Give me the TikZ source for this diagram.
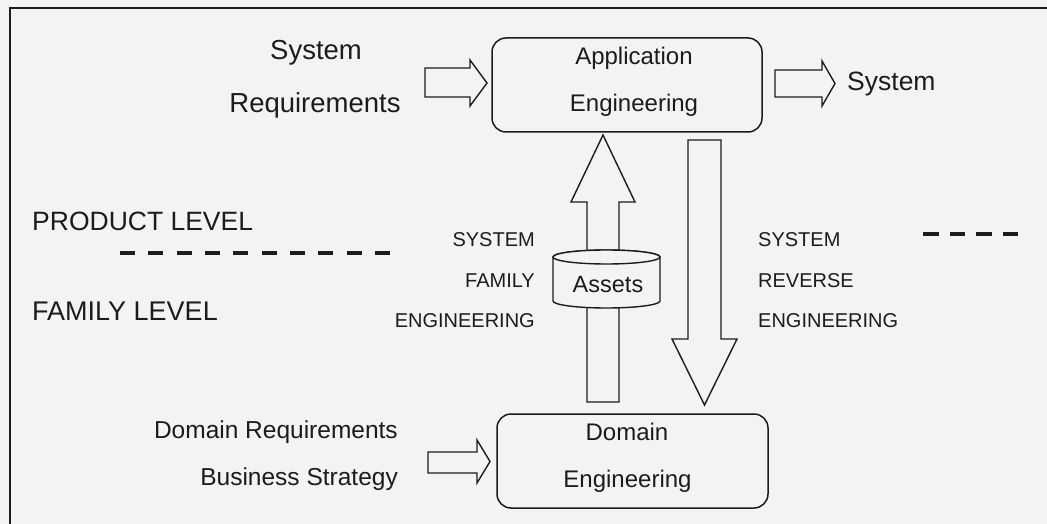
\documentclass[tikz,border=0pt]{standalone}
\usepackage{fontspec}
\setmainfont{Liberation Sans}
\definecolor{bg}{RGB}{243,243,242}
\definecolor{ink}{RGB}{28,28,28}
\begin{document}
\begin{tikzpicture}[x=1pt,y=-1pt,
  frame/.style={draw=ink,line width=2pt},
  box/.style={draw=ink,line width=1.5pt,rounded corners=14pt,minimum width=#1,minimum height=94pt,inner sep=0pt},
  blk/.style={draw=ink,line width=1.4pt,fill=bg,line join=miter},
  cyl/.style={draw=ink,line width=1.4pt,fill=bg},
  lvl/.style={line width=3.5pt,draw=ink},
  t/.style={inner sep=0pt,text=ink,anchor=base},
  tl/.style={inner sep=0pt,text=ink,anchor=base west},
  tr/.style={inner sep=0pt,text=ink,anchor=base east},
  big/.style={font=\fontsize{27.5pt}{30pt}\selectfont},
  mid/.style={font=\fontsize{24pt}{26pt}\selectfont},
  sml/.style={font=\fontsize{20pt}{22pt}\selectfont}]
\useasboundingbox (0,0) rectangle (1047,524);
\fill[bg] (0,0) rectangle (1047,524);
% frame
\coordinate (fbl) at (10,524);
\coordinate (ftl) at (10,8);
\coordinate (ftr) at (1047,8);
\draw[frame] (fbl) -- (ftl) -- (ftr);

% boxes
\node[box=270pt] (app) at (627,85) {};
\node[box=271pt] (dom) at (632.5,461) {};
\node[t,mid] (appa) at (634,65) {Application};
\node[t,mid] (appb) at (634,112) {Engineering};
\node[t,mid] (doma) at (627,440) {Domain};
\node[t,mid] (domb) at (627.5,487) {Engineering};

% inputs / outputs
\node[t,big] (sysa) at (316,60) {System};
\node[t,big] (sysb) at (315,113) {Requirements};
\node[tl,font=\fontsize{26.5pt}{28pt}\selectfont] (sysout) at (847,91) {System};
\node[tr,mid,font=\fontsize{24.5pt}{26pt}\selectfont] (dreq) at (398,438) {Domain Requirements};
\node[tr,mid,font=\fontsize{24.5pt}{26pt}\selectfont] (bstr) at (398,485) {Business Strategy};

% levels
\node[tl,font=\fontsize{26.5pt}{28pt}\selectfont] (prod) at (32,230) {PRODUCT LEVEL};
\node[tl,font=\fontsize{27pt}{28pt}\selectfont] (fam) at (32,320) {FAMILY LEVEL};
\coordinate (l1a) at (120,253);
\coordinate (l1b) at (390,253);
\coordinate (l2a) at (923,234);
\coordinate (l2b) at (1018,234);
\draw[lvl,dash pattern=on 15pt off 13.33pt] (l1a) -- (l1b);
\draw[lvl,dash pattern=on 15.5pt off 11pt] (l2a) -- (l2b);

% block arrows
\draw[blk] (425,68) -- (470,68) -- (470,60) -- (487,83) -- (470,106) -- (470,97) -- (425,97) -- cycle;
\draw[blk] (775,70) -- (822,70) -- (822,61) -- (835,83.5) -- (822,106) -- (822,97) -- (775,97) -- cycle;
\draw[blk] (428,452) -- (477,452) -- (477,440) -- (490,461.5) -- (477,483) -- (477,473) -- (428,473) -- cycle;
\draw[blk] (688,140) -- (721,140) -- (721,339) -- (737,339) -- (704.5,405) -- (672,339) -- (688,339) -- cycle;
\draw[blk] (587,402) -- (587,202) -- (571,202) -- (603,135) -- (635,202) -- (619,202) -- (619,402) -- cycle;

% assets cylinder
\draw[cyl] (553,257) -- (553,301) arc[start angle=180,end angle=360,x radius=53.5pt,y radius=7pt]
  -- (660,257) arc[start angle=0,end angle=180,x radius=53.5pt,y radius=7pt] -- cycle;
\draw[cyl] (606.5,257) ellipse[x radius=53.5pt,y radius=7pt];
\node[t,font=\fontsize{23.5pt}{25pt}\selectfont] (assets) at (608,292) {Assets};

% arrow labels
\node[tr,sml] (sfe1) at (535,246) {SYSTEM};
\node[tr,sml] (sfe2) at (535,287.5) {FAMILY};
\node[tr,sml] (sfe3) at (535,327) {ENGINEERING};
\node[tl,sml] (sre1) at (758,246) {SYSTEM};
\node[tl,sml] (sre2) at (758,287.5) {REVERSE};
\node[tl,sml] (sre3) at (758,327) {ENGINEERING};
\end{tikzpicture}
\end{document}
